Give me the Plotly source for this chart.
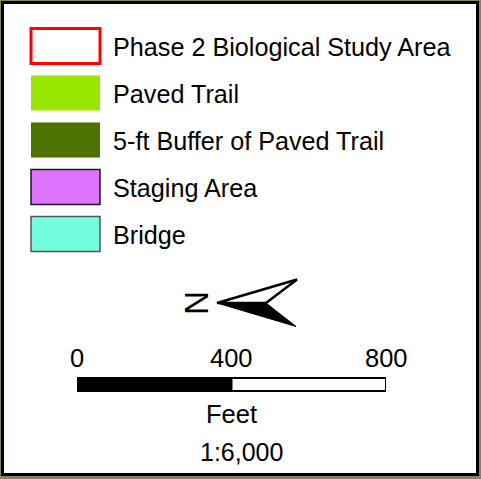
import plotly.graph_objects as go

# ---- data ----
legend_labels = ["Phase 2 Biological Study Area", "Paved Trail", "5-ft Buffer of Paved Trail",
                 "Staging Area", "Bridge"]
legend_fills = ["#FFFFFF", "#98E600", "#4C7300", "#DF73FF", "#73FFDF"]
legend_outlines = ["#FF0000", "#98E600", "#4C7300", "#1a1a1a", "#555555"]
legend_outline_widths = [3, 0, 0, 1.5, 1.5]

scale_ticks = [0, 400, 800]
scale_colors = ["#000000", "#FFFFFF"]
scale_unit = "Feet"
scale_ratio = "1:6,000"
north_label = "N"

FONT = "Liberation Sans, Arial, sans-serif"
W, H = 481, 479

fig = go.Figure()
shapes = []
annotations = []

# frame
shapes.append(dict(type="rect", xref="x", yref="y", x0=2.5, x1=477.5, y0=2.5, y1=474.5,
                   fillcolor="white", line=dict(color="black", width=3), layer="below"))

# legend rows
row0, row_step, sw_h = 46, 47, 35
for i, (lab, fc, oc, ow) in enumerate(zip(legend_labels, legend_fills, legend_outlines, legend_outline_widths)):
    yc = row0 + i * row_step
    shapes.append(dict(type="rect", xref="x", yref="y", x0=31, x1=100,
                       y0=yc - sw_h / 2, y1=yc + sw_h / 2,
                       fillcolor=fc, line=dict(color=oc, width=ow)))
    annotations.append(dict(x=110.5, y=yc + 0.5, xref="x", yref="y", text=lab, showarrow=False,
                            xanchor="left", yanchor="middle",
                            font=dict(family=FONT, size=25.2, color="black")))

# north arrow
annotations.append(dict(x=197, y=303, xref="x", yref="y", text=north_label, showarrow=False,
                        textangle=90, xanchor="center", yanchor="middle",
                        font=dict(family=FONT, size=33, color="black")))
shapes.append(dict(type="path", xref="x", yref="y",
                   path="M 217 303 L 297 279.5 L 266 303 Z",
                   fillcolor="white", line=dict(color="black", width=2.5)))
shapes.append(dict(type="path", xref="x", yref="y",
                   path="M 217 303 L 266 303 L 296 326.5 Z",
                   fillcolor="black", line=dict(color="black", width=1)))

# scale bar (on its own axis in feet)
bases = scale_ticks[:-1]
lengths = [b - a for a, b in zip(scale_ticks[:-1], scale_ticks[1:])]
fig.add_trace(go.Bar(x=lengths, base=bases, y=[384.5] * len(bases), orientation="h",
                     xaxis="x2", yaxis="y", width=13,
                     marker=dict(color=scale_colors, line=dict(color="black", width=2)),
                     hoverinfo="skip", showlegend=False))
for t in scale_ticks:
    annotations.append(dict(x=t, y=358, xref="x2", yref="y", text=str(t), showarrow=False,
                            xanchor="center", yanchor="middle",
                            font=dict(family=FONT, size=25.5, color="black")))
mid = (scale_ticks[0] + scale_ticks[-1]) / 2
annotations.append(dict(x=mid, y=414, xref="x2", yref="y", text=scale_unit, showarrow=False,
                        xanchor="center", yanchor="middle",
                        font=dict(family=FONT, size=25.5, color="black")))
annotations.append(dict(x=241, y=452, xref="x", yref="y", text=scale_ratio, showarrow=False,
                        xanchor="center", yanchor="middle",
                        font=dict(family=FONT, size=25, color="black")))

fig.update_layout(
    width=W, height=H, margin=dict(l=0, r=0, t=0, b=0),
    paper_bgcolor="#7c8a62", plot_bgcolor="rgba(0,0,0,0)",
    xaxis=dict(range=[0, W], visible=False, fixedrange=True, domain=[0, 1]),
    xaxis2=dict(range=[scale_ticks[0], scale_ticks[-1]], domain=[77 / W, 386 / W],
                anchor="y", visible=False, fixedrange=True),
    yaxis=dict(range=[H, 0], visible=False, fixedrange=True, domain=[0, 1]),
    shapes=shapes, annotations=annotations, showlegend=False,
)

fig.write_html("out.html", config={"displayModeBar": False},
               post_script="document.body.style.margin='0';document.body.style.overflow='hidden';")
